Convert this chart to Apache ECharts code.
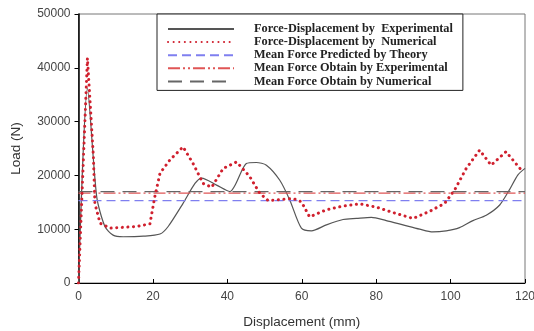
<!DOCTYPE html>
<html><head><meta charset="utf-8">
<script src="https://cdn.jsdelivr.net/npm/echarts@6/dist/echarts.min.js"></script>
<style>html,body{margin:0;padding:0;background:#fff}#c{width:534px;height:331px}</style>
</head><body><div id="c"></div>
<script>
const expX = [0,2.4,4.9,7.1,9.3,12,17.4,21.9,24.1,28.1,31.3,33.1,37.1,40.7,45.1,47.8,50.5,54.1,56.8,59.9,62.6,66.6,71.1,74.7,78.7,82.7,87.2,91.7,95.2,98.8,102.4,106,109.6,113.2,115.8,118.1,120];
const expY = [0,36200,16000,10500,8900,8600,8700,9100,10500,14800,18500,19500,18200,17000,22200,22400,21900,19100,15400,10200,9700,10800,11800,12000,12200,11600,10800,10000,9500,9700,10300,11600,12600,14500,17300,20100,21300];
const numX = [0,2.4,4,4.4,5.8,8.5,15.6,19.2,20.5,21.9,24.6,28.1,30.8,33.5,35.8,38.9,42.5,46,48.7,51,54.1,57.7,59.9,62.1,66.6,71.1,75.6,80.1,84.5,89.9,94.3,98.4,101.1,104.2,107.8,110.9,114.9,116.7,119];
const numY = [0,41800,23500,14800,11100,10200,10500,11000,16000,20400,22900,25300,22200,18500,17800,21300,22500,19800,16700,15300,15500,15700,15100,12300,13600,14300,14700,14100,13100,12000,13300,14800,17300,21300,24700,21900,24400,22900,21000];
const meanTheory = 15300;
const meanExp = 16700;
const meanNum = 17000;
const xRange = [0,120];
const names = ['Force-Displacement by  Experimental','Force-Displacement by  Numerical','Mean Force Predicted by Theory','Mean Force Obtain by Experimental','Mean Force Obtain by Numerical'];

const pair = (xs, ys) => xs.map((x,i)=>[x,ys[i]]);
const flat = v => xRange.map(x=>[x,v]);

const chart = echarts.init(document.getElementById('c'));
chart.setOption({
  animation:false,
  grid:{left:78.5,right:9,top:14,bottom:48,show:true,borderColor:'#777',borderWidth:1,outerBoundsMode:'none',containLabel:false},
  xAxis:{type:'value',min:0,max:120,interval:20,
    name:'Displacement (mm)',nameLocation:'middle',nameGap:32,
    nameTextStyle:{fontFamily:'Liberation Sans',fontSize:13.5,color:'#333'},
    axisLine:{lineStyle:{color:'#000',width:1}},
    axisTick:{inside:true,length:4,lineStyle:{color:'#000'}},
    axisLabel:{fontFamily:'Liberation Sans',fontSize:12,color:'#444',margin:8},
    splitLine:{show:false}},
  yAxis:{type:'value',min:0,max:50000,interval:10000,
    name:'Load (N)',nameLocation:'middle',nameGap:55,
    nameTextStyle:{fontFamily:'Liberation Sans',fontSize:13.5,color:'#333'},
    axisLine:{show:true,lineStyle:{color:'#000',width:1.5}},
    axisTick:{show:true,length:4,lineStyle:{color:'#000'}},
    axisLabel:{fontFamily:'Liberation Sans',fontSize:12,color:'#444',margin:8,formatter:v=>String(v)},
    splitLine:{show:false}},
  legend:{orient:'vertical',left:157,top:14,
    padding:[9,10,3,10],itemGap:1.1,itemWidth:66,itemHeight:12,
    borderColor:'#222',borderWidth:1,backgroundColor:'#fff',
    itemStyle:{opacity:0},
    textStyle:{fontFamily:'Liberation Serif',fontWeight:'bold',fontSize:12.3,color:'#222',padding:[0,0,0,15],width:200},
    data:names},
  series:[
    {name:names[0],type:'line',data:pair(expX,expY),symbol:'none',smooth:0.25,
      lineStyle:{color:'#555',width:1.2},itemStyle:{color:'#555'},z:3},
    {name:names[1],type:'line',data:pair(numX,numY),symbol:'none',
      lineStyle:{color:'#d0202e',width:3,type:[0.1,5.5],cap:'round'},itemStyle:{color:'#d0202e'},z:4},
    {name:names[2],type:'line',data:flat(meanTheory),symbol:'none',
      lineStyle:{color:'#7f7ff0',width:1.3,type:[9,5]},itemStyle:{color:'#7f7ff0'}},
    {name:names[3],type:'line',data:flat(meanExp),symbol:'none',
      lineStyle:{color:'#e05555',width:1.3,type:[12,3,2,3,2,3]},itemStyle:{color:'#e05555'}},
    {name:names[4],type:'line',data:flat(meanNum),symbol:'none',
      lineStyle:{color:'#666',width:1.3,type:[14,8]},itemStyle:{color:'#666'}}
  ]
});
</script></body></html>
